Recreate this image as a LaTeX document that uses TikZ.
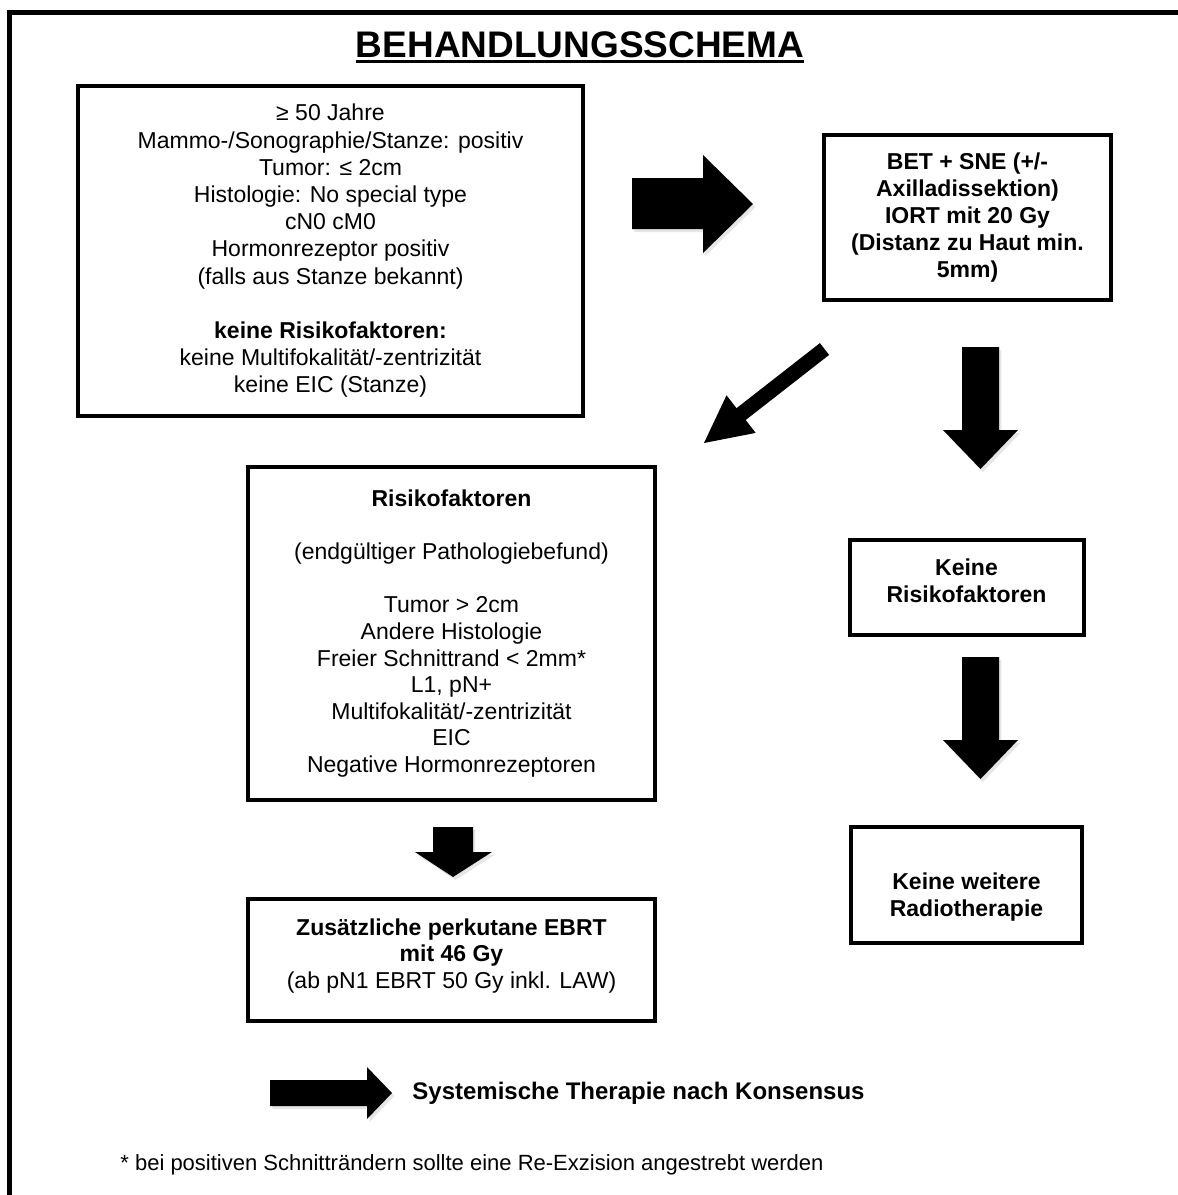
\documentclass[tikz,border=0pt]{standalone}
\usepackage{fontspec}
\setmainfont{Liberation Sans}
\usetikzlibrary{shadows}

\begin{document}
\begin{tikzpicture}[x=0.5pt, y=-0.5pt,
  box/.style={draw, line width=2pt, align=center, inner sep=0pt,
    font=\fontsize{11.5}{13.6}\selectfont},
  plain/.style={inner sep=0pt, font=\fontsize{11.5}{13.6}\selectfont},
  blockarrow/.style={fill=black,
    drop shadow={shadow xshift=1.2pt, shadow yshift=-1.5pt, opacity=0.2}}]

\useasboundingbox (0,0) rectangle (1178,1195);

%% Frame and heading

% outer frame, runs off right and bottom
\draw [line width=2.5pt] (9,1200) -- (9,12) -- (1190,12);

% heading
\node (title) at (580,57) [anchor=base, inner sep=0pt]
  {\fontsize{18.5}{22}\selectfont\bfseries BEHANDLUNGSSCHEMA};
\draw [line width=1.6pt] ([yshift=-2.2pt]title.base west) -- ([yshift=-2.2pt]title.base east);

%% Left column

% inclusion criteria
\node (crit) at (330.5,251) [box, minimum width=252.5pt, minimum height=165pt] {
  ≥ 50 Jahre\\
  Mammo-/Sonographie/Stanze: positiv\\
  Tumor: ≤ 2cm\\
  Histologie: No special type\\
  cN0 cM0\\
  Hormonrezeptor positiv\\
  (falls aus Stanze bekannt)\\[13.6pt]
  \textbf{keine Risikofaktoren:}\\
  keine Multifokalität/-zentrizität\\
  keine EIC (Stanze)};

% risk factors
\node (risk) at (451.5,633.5) [box, minimum width=203.5pt, minimum height=166.5pt,
  font=\fontsize{11.5}{13.3}\selectfont] {
  \textbf{Risikofaktoren}\\[13.3pt]
  (endgültiger Pathologiebefund)\\[13.3pt]
  Tumor > 2cm\\
  Andere Histologie\\
  Freier Schnittrand < 2mm*\\
  L1, pN+\\
  Multifokalität/-zentrizität\\
  EIC\\
  Negative Hormonrezeptoren};

% EBRT
\node (ebrt) at (451.5,960) [box, minimum width=203.5pt, minimum height=61pt,
  font=\fontsize{11.5}{13.2}\selectfont] {
  \textbf{Zusätzliche perkutane EBRT}\\
  \textbf{mit 46 Gy}\\
  (ab pN1 EBRT 50 Gy inkl. LAW)\rule[-6.4pt]{0pt}{0pt}};

%% Right column

% surgery + IORT
\node (bet) at (967.5,217.5) [box, minimum width=143.5pt, minimum height=82.5pt, font=\fontsize{11.5}{13.6}\selectfont\bfseries] {
  BET + SNE (+/-\\
  Axilladissektion)\\
  IORT mit 20 Gy\\
  (Distanz zu Haut min.\\
  5mm)};

% no risk factors
\node (norisk) at (966.5,587.5) [box, minimum width=117pt, minimum height=47.5pt, font=\fontsize{11.5}{13.6}\selectfont\bfseries] {
  Keine\\
  Risikofaktoren\rule[-6.7pt]{0pt}{0pt}};

% no further RT
\node (norad) at (966.5,885) [box, minimum width=115.5pt, minimum height=58pt, font=\fontsize{11.5}{13.6}\selectfont\bfseries] {
  \rule{0pt}{20pt}Keine weitere\\
  Radiotherapie};

%% Block arrows

% crit -> bet
\fill [blockarrow] (632,178) -- (703,178) -- (703,155) -- (753,204) -- (703,253) -- (703,229) -- (632,229) -- cycle;

% bet -> risk (diagonal)
\fill (819.9,343.1) -- (829.1,354.9) -- (745.7,420) -- (755.7,432.9) -- (704,443) -- (726.5,395.3) -- (736.5,408.2) -- cycle;

% bet -> norisk
\fill [blockarrow] (962,347) -- (999,347) -- (999,430) -- (1018,430) -- (980.5,469) -- (943,430) -- (962,430) -- cycle;

% norisk -> norad
\fill [blockarrow] (962,657) -- (999,657) -- (999,740) -- (1018,740) -- (980.5,779) -- (943,740) -- (962,740) -- cycle;

% risk -> ebrt
\fill [blockarrow] (433,827) -- (473,827) -- (473,852) -- (492,852) -- (453,877) -- (415,852) -- (433,852) -- cycle;

% systemic therapy
\fill [blockarrow] (270,1080) -- (367,1080) -- (367,1067) -- (392,1093) -- (367,1119) -- (367,1106) -- (270,1106) -- cycle;
\node (systxt) at (412,1093) [plain, anchor=west, font=\fontsize{12}{14}\selectfont\bfseries]
  {Systemische Therapie nach Konsensus};

% footnote
\node (fnote) at (120,1165) [plain, anchor=west, font=\fontsize{11}{13}\selectfont]
  {* bei positiven Schnitträndern sollte eine Re-Exzision angestrebt werden};

\end{tikzpicture}
\end{document}
